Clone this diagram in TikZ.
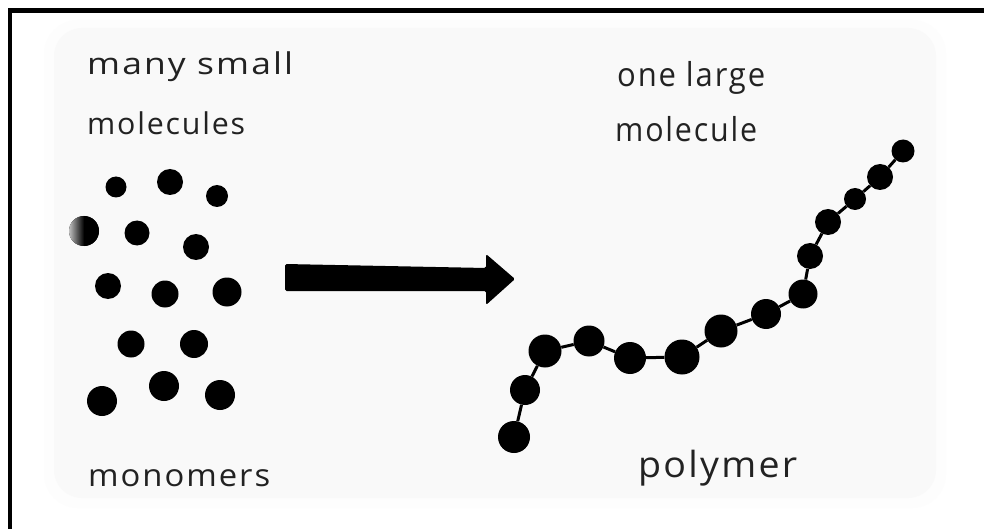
\documentclass[tikz,border=0pt]{standalone}
\usepackage{fontspec}
\usepackage{graphicx}
\setmainfont{Open Sans}[LetterSpace=6]
\definecolor{ink}{RGB}{34,34,34}
\definecolor{paper}{RGB}{249,249,249}
\definecolor{paperedge}{RGB}{253,253,253}
% text stretched horizontally to a given width, keeping its height
\newcommand{\handtext}[3]{\resizebox{#1pt}{\height}{\fontsize{#2}{#2}\selectfont #3}}
\begin{document}
\begin{tikzpicture}[x=1pt,y=-1pt,
  mono/.style={circle, fill=black, inner sep=0pt, minimum size=#1},
  bead/.style={circle, fill=black, inner sep=0pt, minimum size=#1},
  link/.style={draw=black, line width=3pt},
  lbl/.style={text=ink, inner sep=0pt, anchor=base west},
  frameline/.style={draw=black, line width=4.5pt}]
\useasboundingbox (0,0) rectangle (984,529);
\clip (0,0) rectangle (984,529);
\fill[white] (0,0) rectangle (984,529);

% pale drawing sheet with soft edges
\fill[paperedge, rounded corners=34pt] (44,20) rectangle (946,508);
\fill[paper, rounded corners=28pt] (54,28) rectangle (936,498);

% frame (top and left edges)
\draw[frameline] (10,540) -- (10,10.5) -- (1000,10.5);

% labels
\node[lbl] (many)  at (87,75)   {\handtext{206}{30}{many small}};
\node[lbl] (mols)  at (87,135)  {\handtext{158}{30}{molecules}};
\node[lbl] (one)   at (617,87)  {\handtext{148}{33}{one large}};
\node[lbl] (mol)   at (615,142) {\handtext{142}{33}{molecule}};
\node[lbl] (monos) at (88,486)  {\handtext{182}{31}{monomers}};
\node[lbl] (poly)  at (638,477) {\handtext{159}{36}{polymer}};

% monomers
\node[mono=21pt] (m1)  at (116,187) {};
\node[mono=26pt] (m2)  at (170,182) {};
\node[mono=22pt] (m3)  at (217,196) {};
\node[mono=30pt, left color=black!25, right color=black, middle color=black]
                 (m4)  at (84,231)  {};
\node[mono=25pt] (m5)  at (137,233) {};
\node[mono=26pt] (m6)  at (196,247) {};
\node[mono=26pt] (m7)  at (108,286) {};
\node[mono=27pt] (m8)  at (165,294) {};
\node[mono=29pt] (m9)  at (227,292) {};
\node[mono=27pt] (m10) at (131,344) {};
\node[mono=28pt] (m11) at (194,344) {};
\node[mono=30pt] (m12) at (164,386) {};
\node[mono=30pt] (m13) at (102,401) {};
\node[mono=30pt] (m14) at (220,395) {};

% reaction arrow: thick block arrow
\fill[black, rounded corners=1.5pt]
  (285,264) -- (486,268) -- (486,254) -- (515,279) -- (486,305)
  -- (486,291) -- (285,291) -- cycle;

% polymer chain
\node[bead=32pt] (p1)  at (514,437) {};
\node[bead=30pt] (p2)  at (525,390) {};
\node[bead=33pt] (p3)  at (545,351) {};
\node[bead=31pt] (p4)  at (589,341) {};
\node[bead=32pt] (p5)  at (630,358) {};
\node[bead=35pt] (p6)  at (682,357) {};
\node[bead=33pt] (p7)  at (721,331) {};
\node[bead=30pt] (p8)  at (766,314) {};
\node[bead=29pt] (p9)  at (803,294) {};
\node[bead=26pt] (p10) at (810,256) {};
\node[bead=26pt] (p11) at (828,222) {};
\node[bead=22pt] (p12) at (855,199) {};
\node[bead=26pt] (p13) at (880,177) {};
\node[bead=23pt] (p14) at (903,151) {};

\draw[link] (p1) -- (p2);
\draw[link] (p2) -- (p3);
\draw[link] (p3) -- (p4);
\draw[link] (p4) -- (p5);
\draw[link] (p5) -- (p6);
\draw[link] (p6) -- (p7);
\draw[link] (p7) -- (p8);
\draw[link] (p8) -- (p9);
\draw[link] (p9) -- (p10);
\draw[link] (p10) -- (p11);
\draw[link] (p11) -- (p12);
\draw[link] (p12) -- (p13);
\draw[link] (p13) -- (p14);
\end{tikzpicture}
\end{document}
